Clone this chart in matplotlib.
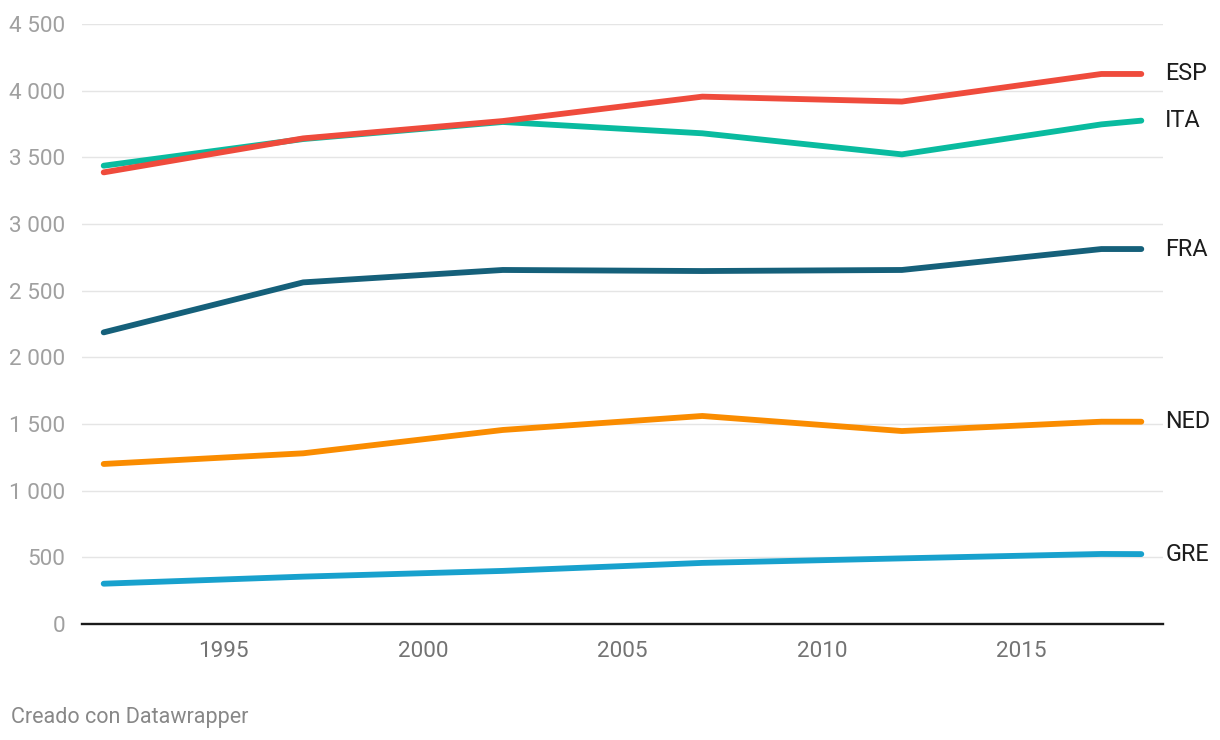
import matplotlib.pyplot as plt
from matplotlib.ticker import FuncFormatter

plt.rcParams['font.family'] = ['Roboto', 'DejaVu Sans']

# data
years = [1992, 1997, 2002, 2007, 2012, 2017, 2018]
gre = [302, 355, 398, 458, 492, 525, 524]
ned = [1200, 1280, 1455, 1560, 1447, 1517, 1517]
fra = [2187, 2562, 2655, 2647, 2655, 2812, 2812]
ita = [3437, 3637, 3765, 3680, 3522, 3747, 3775]
esp = [3387, 3642, 3772, 3955, 3918, 4125, 4125]

series = [
    ('GRE', gre, '#18a1cd'),
    ('NED', ned, '#fa8c00'),
    ('FRA', fra, '#15607a'),
    ('ITA', ita, '#09bb9f'),
    ('ESP', esp, '#ef4b3c'),
]

x_ticks = [1995, 2000, 2005, 2010, 2015]
y_ticks = [0, 500, 1000, 1500, 2000, 2500, 3000, 3500, 4000, 4500]

fig = plt.figure(figsize=(12.2, 7.4), dpi=100)
ax = fig.add_axes([0.067, 0.1568, 0.8865, 0.8108])

for name, vals, col in series:
    ax.plot(years, vals, color=col, lw=4.2, solid_capstyle='round',
            solid_joinstyle='round', clip_on=False, zorder=3)
    ax.annotate(name, xy=(1.0, vals[-1]), xycoords=('axes fraction', 'data'),
                xytext=(2, 0), textcoords='offset pixels',
                ha='left', va='center', fontsize=16.8, color='#1d1d1d')

ax.set_xlim(1991.45, 2018.55)
ax.set_ylim(0, 4500)

ax.set_xticks(x_ticks)
ax.set_yticks(y_ticks)
ax.yaxis.set_major_formatter(FuncFormatter(lambda v, p: f'{int(v):,}'.replace(',', ' ')))

ax.grid(axis='y', color='#e5e5e5', lw=1.0, zorder=0)
ax.grid(axis='x', visible=False)
for s in ['top', 'right', 'left']:
    ax.spines[s].set_visible(False)
ax.spines['bottom'].set_color('#1a1a1a')
ax.spines['bottom'].set_linewidth(1.7)
ax.spines['bottom'].set_zorder(4)

ax.tick_params(axis='y', length=0, pad=12, labelsize=16.2, labelcolor='#a0a0a0')
ax.tick_params(axis='x', length=0, pad=12.5, labelsize=16.2, labelcolor='#737373')

fig.text(11 / 1220, 1 - 717 / 740, 'Creado con Datawrapper', ha='left', va='center',
         fontsize=15.5, color='#888888')

plt.savefig('out.png', dpi=100)
